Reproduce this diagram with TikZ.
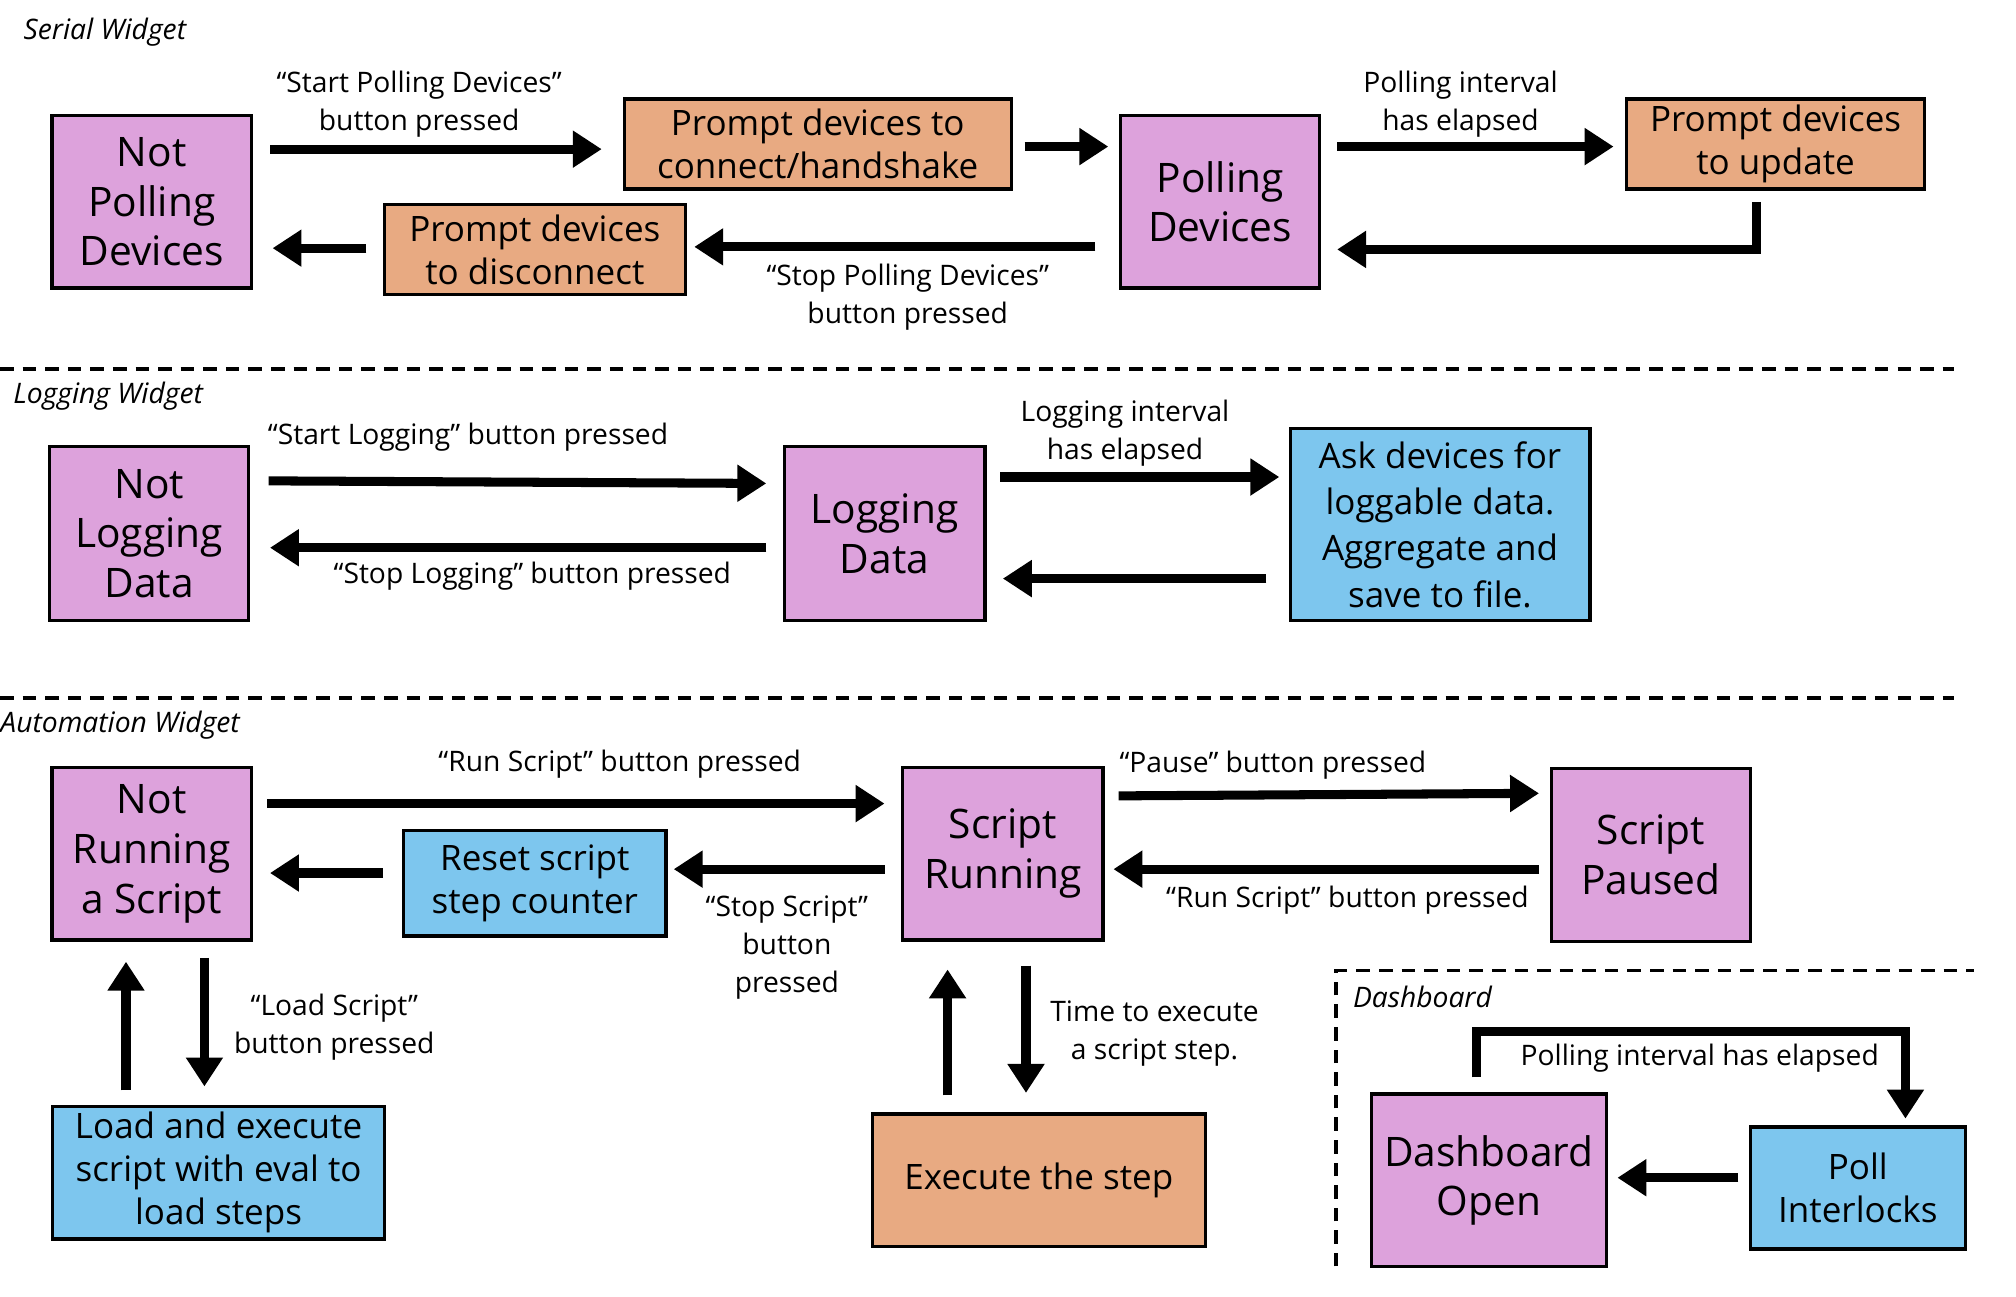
\documentclass[tikz,border=0pt]{standalone}
\usepackage{fontspec}
\setmainfont{Open Sans}
\usetikzlibrary{arrows.meta}
\definecolor{pk}{RGB}{221,162,220}
\definecolor{og}{RGB}{232,170,130}
\definecolor{bl}{RGB}{125,198,238}
\begin{document}
\begin{tikzpicture}[x=0.02cm,y=-0.02cm,
 box/.style={draw=black,line width=1.5pt,align=center,inner sep=0pt,font=\fontsize{15.5}{19}\selectfont},
 st/.style={box,fill=pk,font=\fontsize{18}{22}\selectfont},
 ob/.style={box,fill=og},
 bb/.style={box,fill=bl},
 ar/.style={line width=4pt,-{Triangle[length=0.45cm,width=0.55cm]}},
 lb/.style={align=center,font=\fontsize{12.5}{17}\selectfont,inner sep=0pt},
 ttl/.style={anchor=west,font=\itshape\fontsize{12.5}{16}\selectfont,inner sep=0pt},
 sep/.style={line width=1.5pt,dash pattern=on 6pt off 4pt}]
\useasboundingbox (0,0) rectangle (1568,1008);
% Serial
\node[ttl] (t1) at (18,25) {Serial Widget};
\node[st,minimum width=155*0.02cm,minimum height=134*0.02cm] (npd) at (118,157) {Not\\Polling\\Devices};
\node[ob,minimum width=301*0.02cm,minimum height=70*0.02cm] (pdc) at (636,112) {Prompt devices to\\connect/handshake};
\node[st,minimum width=155*0.02cm,minimum height=134*0.02cm] (pd) at (949,157) {Polling\\Devices};
\node[ob,minimum width=232*0.02cm,minimum height=70*0.02cm] (pdu) at (1381,112) {Prompt devices\\to update};
\node[ob,minimum width=234*0.02cm,minimum height=70*0.02cm] (pdd) at (416,194) {Prompt devices\\to disconnect};
\coordinate (a1s) at (210,116); \coordinate (a1e) at (468,116);
\draw[ar] (a1s) -- (a1e);
\node[lb] (l1) at (326,81) {“Start Polling Devices”\\button pressed};
\coordinate (a2s) at (797,114); \coordinate (a2e) at (862,114);
\draw[ar] (a2s) -- (a2e);
\coordinate (a3s) at (1040,114); \coordinate (a3e) at (1255,114);
\draw[ar] (a3s) -- (a3e);
\node[lb] (l3) at (1136,81) {Polling interval\\has elapsed};
\coordinate (a4s) at (1366,157); \coordinate (a4m) at (1366,194); \coordinate (a4e) at (1040,194);
\draw[ar] (a4s) -- (a4m) -- (a4e);
\coordinate (a5s) at (852,192); \coordinate (a5e) at (540,192);
\draw[ar] (a5s) -- (a5e);
\node[lb] (l5) at (706,231) {“Stop Polling Devices”\\button pressed};
\coordinate (a6s) at (285,193); \coordinate (a6e) at (212,193);
\draw[ar] (a6s) -- (a6e);
\coordinate (s1a) at (0,287); \coordinate (s1b) at (1520,287);
\draw[sep] (s1a) -- (s1b);
% Logging
\node[ttl] (t2) at (10,308) {Logging Widget};
\node[st,minimum width=155*0.02cm,minimum height=135*0.02cm] (nld) at (116,415) {Not\\Logging\\Data};
\node[st,minimum width=156*0.02cm,minimum height=135*0.02cm] (ld) at (688,415) {Logging\\Data};
\node[bb,minimum width=233*0.02cm,minimum height=149*0.02cm,font=\fontsize{15.5}{20.5}\selectfont] (ask) at (1120,408) {Ask devices for\\loggable data.\\Aggregate and\\save to file.};
\coordinate (b1s) at (209,374); \coordinate (b1e) at (596,376);
\draw[ar] (b1s) -- (b1e);
\node[lb] (m1) at (364,340) {“Start Logging” button pressed};
\coordinate (b2s) at (596,426); \coordinate (b2e) at (210,426);
\draw[ar] (b2s) -- (b2e);
\node[lb] (m2) at (414,448) {“Stop Logging” button pressed};
\coordinate (b3s) at (778,371); \coordinate (b3e) at (995,371);
\draw[ar] (b3s) -- (b3e);
\node[lb] (m3) at (875,337) {Logging interval\\has elapsed};
\coordinate (b4s) at (985,450); \coordinate (b4e) at (780,450);
\draw[ar] (b4s) -- (b4e);
\coordinate (s2a) at (0,543); \coordinate (s2b) at (1520,543);
\draw[sep] (s2a) -- (s2b);
% Automation
\node[ttl] (t3) at (0,564) {Automation Widget};
\node[st,minimum width=155*0.02cm,minimum height=134*0.02cm] (nrs) at (118,664) {Not\\Running\\a Script};
\node[st,minimum width=156*0.02cm,minimum height=134*0.02cm] (sr) at (780,664) {Script\\Running};
\node[st,minimum width=155*0.02cm,minimum height=135*0.02cm] (sp) at (1284,665) {Script\\Paused};
\node[bb,minimum width=204*0.02cm,minimum height=82*0.02cm] (rsc) at (416,687) {Reset script\\step counter};
\node[bb,minimum width=258*0.02cm,minimum height=103*0.02cm] (les) at (170,912) {Load and execute\\script with eval to\\load steps};
\node[ob,minimum width=259*0.02cm,minimum height=103*0.02cm] (ets) at (808,918) {Execute the step};
\coordinate (c1s) at (208,625); \coordinate (c1e) at (688,625);
\draw[ar] (c1s) -- (c1e);
\node[lb] (n1) at (482,594) {“Run Script” button pressed};
\coordinate (c2s) at (688,676); \coordinate (c2e) at (524,676);
\draw[ar] (c2s) -- (c2e);
\node[lb] (n2) at (612,737) {“Stop Script”\\button\\pressed};
\coordinate (c3s) at (298,679); \coordinate (c3e) at (210,679);
\draw[ar] (c3s) -- (c3e);
\coordinate (c4s) at (870,619); \coordinate (c4e) at (1197,617);
\draw[ar] (c4s) -- (c4e);
\node[lb] (n4) at (990,595) {“Pause” button pressed};
\coordinate (c5s) at (1197,676); \coordinate (c5e) at (866,676);
\draw[ar] (c5s) -- (c5e);
\node[lb] (n5) at (1048,700) {“Run Script” button pressed};
\coordinate (c6s) at (98,848); \coordinate (c6e) at (98,748);
\draw[ar] (c6s) -- (c6e);
\coordinate (c7s) at (159,745); \coordinate (c7e) at (159,845);
\draw[ar] (c7s) -- (c7e);
\node[lb] (n7) at (260,799) {“Load Script”\\button pressed};
\coordinate (c8s) at (737,852); \coordinate (c8e) at (737,754);
\draw[ar] (c8s) -- (c8e);
\coordinate (c9s) at (798,751); \coordinate (c9e) at (798,850);
\draw[ar] (c9s) -- (c9e);
\node[lb] (n9) at (898,804) {Time to execute\\a script step.};
% Dashboard
\coordinate (d1) at (1039,985); \coordinate (d2) at (1039,755); \coordinate (d3) at (1535,755);
\draw[sep] (d1) -- (d2) -- (d3);
\node[ttl] (t4) at (1052,775) {Dashboard};
\node[st,minimum width=183*0.02cm,minimum height=134*0.02cm] (do) at (1158,918) {Dashboard\\Open};
\node[bb,minimum width=167*0.02cm,minimum height=95*0.02cm] (pi) at (1445,924) {Poll\\Interlocks};
\coordinate (e1) at (1148,838); \coordinate (e2) at (1148,802); \coordinate (e3) at (1482,802); \coordinate (e4) at (1482,870);
\draw[ar] (e1) -- (e2) -- (e3) -- (e4);
\node[lb] (o1) at (1322,823) {Polling interval has elapsed};
\coordinate (e5) at (1352,916); \coordinate (e6) at (1258,916);
\draw[ar] (e5) -- (e6);
\end{tikzpicture}
\end{document}
